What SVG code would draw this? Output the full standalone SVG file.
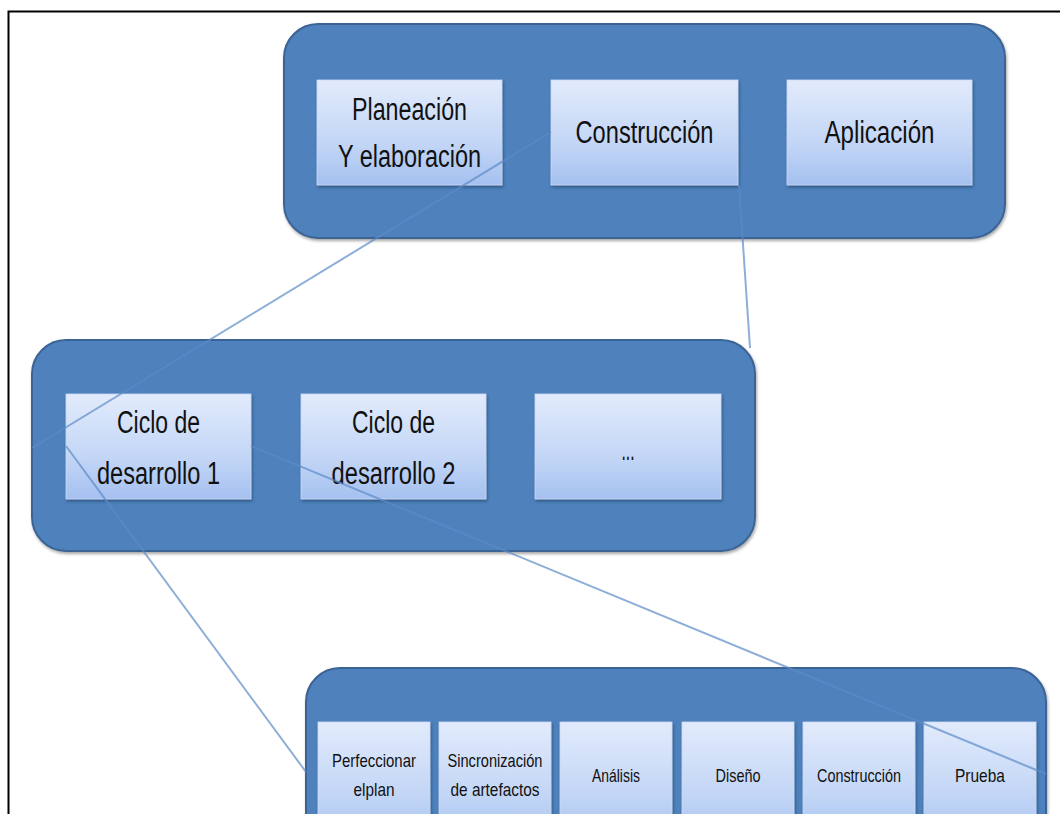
<svg xmlns="http://www.w3.org/2000/svg" width="1060" height="814" viewBox="0 0 1060 814">
<defs>
<linearGradient id="bx" x1="0" y1="0" x2="0" y2="1">
<stop offset="0" stop-color="#e2ebfc"/>
<stop offset="0.6" stop-color="#c3d6f6"/>
<stop offset="1" stop-color="#a5c1f0"/>
</linearGradient>
<filter id="sh" x="-10%" y="-10%" width="120%" height="130%">
<feDropShadow dx="1" dy="2" stdDeviation="1.5" flood-color="#1f3a5f" flood-opacity="0.6"/>
</filter>
<filter id="shc" x="-5%" y="-5%" width="110%" height="115%">
<feDropShadow dx="1" dy="2" stdDeviation="1.5" flood-color="#000" flood-opacity="0.35"/>
</filter>
</defs>
<style>
.cont{fill:#4f81bd;stroke:#3b6494;stroke-width:2;filter:url(#shc)}
.box{fill:url(#bx);stroke:#c9daf6;stroke-width:0.8;filter:url(#sh)}
.t{font-family:"Liberation Sans",Arial,sans-serif;fill:#111;text-anchor:middle}
.big{font-size:31px}
.sm{font-size:19px}
.ln{stroke:#5d8cc8;stroke-opacity:0.7;stroke-width:2;fill:none}
</style>
<rect x="0" y="0" width="1060" height="814" fill="#fff"/>
<rect x="8.5" y="11.5" width="1070" height="820" fill="none" stroke="#000" stroke-width="2"/>

<g id="top-container">
<rect class="cont" x="284" y="24" width="721" height="214" rx="34"/>
</g>
<g id="node-planeacion">
<rect class="box" x="317" y="80" width="185" height="105"/>
<text class="t big" x="409.5" y="120" textLength="115" lengthAdjust="spacingAndGlyphs">Planeación</text>
<text class="t big" x="409.5" y="167" textLength="143" lengthAdjust="spacingAndGlyphs">Y elaboración</text>
</g>
<g id="node-construccion">
<rect class="box" x="551" y="80" width="187" height="105"/>
<text class="t big" x="644.5" y="143" textLength="138" lengthAdjust="spacingAndGlyphs">Construcción</text>
</g>
<g id="node-aplicacion">
<rect class="box" x="787" y="80" width="185" height="105"/>
<text class="t big" x="879.5" y="143" textLength="110" lengthAdjust="spacingAndGlyphs">Aplicación</text>
</g>

<g id="mid-container">
<rect class="cont" x="32" y="340" width="723" height="211" rx="34"/>
</g>
<g id="node-ciclo1">
<rect class="box" x="66" y="394" width="185" height="105"/>
<text class="t big" x="158.5" y="433" textLength="83" lengthAdjust="spacingAndGlyphs">Ciclo de</text>
<text class="t big" x="158.5" y="484" textLength="123" lengthAdjust="spacingAndGlyphs">desarrollo 1</text>
</g>
<g id="node-ciclo2">
<rect class="box" x="301" y="394" width="185" height="105"/>
<text class="t big" x="393.5" y="433" textLength="83" lengthAdjust="spacingAndGlyphs">Ciclo de</text>
<text class="t big" x="393.5" y="484" textLength="124" lengthAdjust="spacingAndGlyphs">desarrollo 2</text>
</g>
<g id="node-etc">
<rect class="box" x="535" y="394" width="186" height="105"/>
<text class="t big" x="628" y="460" textLength="13" lengthAdjust="spacingAndGlyphs">...</text>
</g>

<g id="bottom-container">
<rect class="cont" x="306" y="668" width="740" height="180" rx="34"/>
</g>
<g id="node-perfeccionar">
<rect class="box" x="318" y="722" width="112" height="120"/>
<text class="t sm" x="374" y="767" textLength="84" lengthAdjust="spacingAndGlyphs">Perfeccionar</text>
<text class="t sm" x="374" y="796" textLength="41" lengthAdjust="spacingAndGlyphs">elplan</text>
</g>
<g id="node-sincronizacion">
<rect class="box" x="439" y="722" width="112" height="120"/>
<text class="t sm" x="495" y="767" textLength="95" lengthAdjust="spacingAndGlyphs">Sincronización</text>
<text class="t sm" x="495" y="796" textLength="89" lengthAdjust="spacingAndGlyphs">de artefactos</text>
</g>
<g id="node-analisis">
<rect class="box" x="560" y="722" width="112" height="120"/>
<text class="t sm" x="616" y="782" textLength="48" lengthAdjust="spacingAndGlyphs">Análisis</text>
</g>
<g id="node-diseno">
<rect class="box" x="682" y="722" width="112" height="120"/>
<text class="t sm" x="738" y="782" textLength="45" lengthAdjust="spacingAndGlyphs">Diseño</text>
</g>
<g id="node-construccion2">
<rect class="box" x="803" y="722" width="112" height="120"/>
<text class="t sm" x="859" y="782" textLength="84" lengthAdjust="spacingAndGlyphs">Construcción</text>
</g>
<g id="node-prueba">
<rect class="box" x="924" y="722" width="112" height="120"/>
<text class="t sm" x="980" y="782" textLength="50" lengthAdjust="spacingAndGlyphs">Prueba</text>
</g>

<g id="connectors">
<line class="ln" x1="551" y1="132" x2="32" y2="448"/>
<line class="ln" x1="739" y1="185" x2="750" y2="348"/>
<line class="ln" x1="66" y1="446" x2="306" y2="772"/>
<line class="ln" x1="251" y1="446" x2="1046" y2="774"/>
</g>
</svg>
